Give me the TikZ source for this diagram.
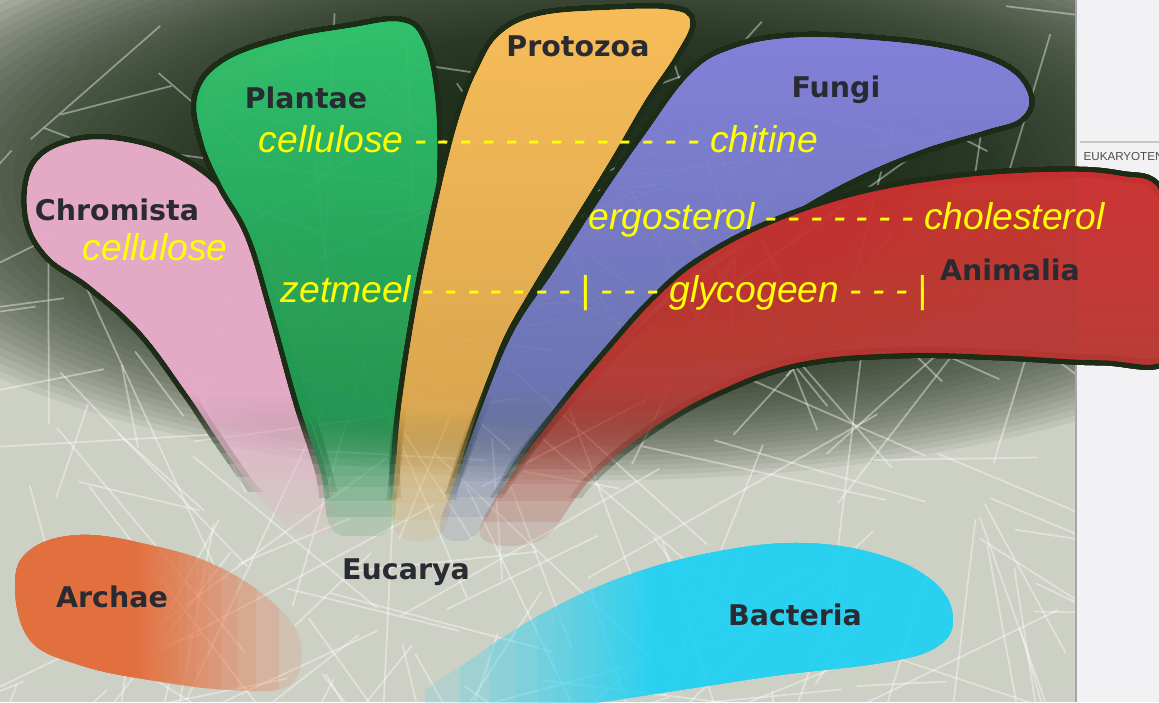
\documentclass[tikz,border=0pt]{standalone}
\usepackage{fontspec}
\usepackage{xcolor}
\usepackage{tikz}
\newfontfamily\rijkfont{DejaVu Sans}
\newfontfamily\stoffont{Liberation Sans}
\definecolor{achtergrond}{HTML}{CDD0C5}
\definecolor{gloed}{HTML}{1C2C17}
\definecolor{paneel}{HTML}{F2F2F4}
\definecolor{roze}{HTML}{E9AFCB}
\definecolor{groen}{HTML}{36C672}
\definecolor{groendonker}{HTML}{1F8C4B}
\definecolor{oranje}{HTML}{FDC25E}
\definecolor{oranjedonker}{HTML}{D6A550}
\definecolor{paars}{HTML}{8886DF}
\definecolor{paarsdonker}{HTML}{6676A6}
\definecolor{rood}{HTML}{CC3535}
\definecolor{rooddonker}{HTML}{A8443A}
\definecolor{archae}{HTML}{E8703F}
\definecolor{cyaan}{HTML}{2AD3F5}
\definecolor{tekst}{HTML}{2A2A33}
\definecolor{geel}{HTML}{FFFF00}

% een rijk: vlak met donkere rand, dat langs x of y vervaagt
% #1 = x of y, #2 = begin vervagen, #3 = einde vervagen, #4 = opmaak, #5 = punten
\newcommand{\rijkvlak}[5]{%
  \pgfmathsetmacro{\ver}{#2-10*(#3-#2)}
  % rand vervaagt eerder dan het vlak
  \foreach \k in {0,...,27}{
    \pgfmathsetmacro{\vb}{#2+0.7*(#3-#2)*0.85^\k}
    \begin{scope}
      \if#1y\clip (-100,\ver) rectangle (1300,\vb);\else\clip (\ver,-100) rectangle (\vb,800);\fi
      \draw[halo, opacity=.15] plot[smooth cycle, tension=.65] coordinates {#5};
    \end{scope}
  }
  \foreach \k in {0,...,27}{
    \pgfmathsetmacro{\vb}{#2+(#3-#2)*0.85^\k}
    \begin{scope}
      \if#1y\clip (-100,\ver) rectangle (1300,\vb);\else\clip (\ver,-100) rectangle (\vb,800);\fi
      \path[#4, opacity=.15] plot[smooth cycle, tension=.65] coordinates {#5};
    \end{scope}
  }
}

\begin{document}
\begin{tikzpicture}[x=0.01cm, y=-0.01cm,
    rijk/.style={font=\rijkfont\bfseries\fontsize{8.1}{9}\selectfont, text=tekst, inner sep=0pt},
    stof/.style={font=\stoffont\itshape\fontsize{10.6}{12}\selectfont, text=geel, inner sep=0pt, anchor=base west},
    vezel/.style={white, opacity=.4, line width=.5pt},
    halo/.style={draw=gloed, line width=3pt, line join=round}]

  \clip (0,0) rectangle (1159,702);

  % achtergrond met donkere gloed
  \fill[achtergrond] (0,0) rectangle (1159,702);
  \foreach \s in {0,...,39}{
    \pgfmathsetmacro{\f}{1-0.65*\s/39}
    \fill[gloed, opacity=.065] (600,180) ellipse [x radius=8cm*\f, y radius=3cm*\f];
  }

  % vezels
  \begin{scope}
    \clip (0,0) rectangle (1075,702);
    \pgfmathsetseed{12}
    \foreach \i in {1,...,170}{
      \pgfmathsetmacro{\xa}{rnd*1075}
      \pgfmathsetmacro{\ya}{rnd*702}
      \pgfmathsetmacro{\hoek}{rnd*180}
      \pgfmathsetmacro{\lengte}{80+rnd*260}
      \draw[vezel] (\xa,\ya) -- ++(\hoek:\lengte);
    }
  \end{scope}

  % bladzijde rechts
  \fill[paneel] (1077,0) rectangle (1159,702);
  \draw[gray!70, line width=.6pt] (1076,0) -- (1076,702);
  \draw[gray!45, line width=.4pt] (1080,142) -- (1159,142);
  \node[font=\stoffont\fontsize{3.3}{4}\selectfont, text=black!70, anchor=west, inner sep=0pt] (eukaryoten) at (1083,156) {EUKARYOTEN};

  % Chromista
  \rijkvlak{y}{390}{535}{fill=roze}{(35,165) (75,142) (130,143) (185,163) (228,200) (252,250) (272,310) (298,385) (322,455) (335,525) (300,532) (262,500) (225,450) (185,390) (140,330) (90,285) (48,255) (28,215)}
  % Plantae
  \rijkvlak{y}{410}{535}{top color=groen, bottom color=groendonker}{(198,95) (225,62) (285,40) (350,28) (400,22) (422,40) (434,90) (437,160) (432,230) (420,300) (405,380) (395,450) (390,528) (335,532) (320,470) (298,400) (273,310) (250,235) (222,185) (203,140)}
  % Protozoa
  \rijkvlak{y}{405}{540}{top color=oranje, bottom color=oranjedonker}{(478,70) (500,35) (540,16) (610,10) (670,10) (690,22) (675,55) (645,100) (610,160) (570,225) (530,290) (500,345) (478,410) (455,480) (440,535) (395,530) (397,450) (405,380) (418,300) (432,230) (448,160) (462,110)}
  % Fungi
  \rijkvlak{y}{385}{540}{top color=paars, bottom color=paarsdonker}{(690,75) (730,50) (790,38) (870,40) (950,50) (1005,68) (1028,95) (1020,118) (985,130) (920,150) (850,180) (780,220) (720,262) (670,300) (615,350) (560,410) (515,465) (475,535) (440,530) (460,470) (485,400) (515,330) (555,270) (600,200) (645,135)}
  % Animalia
  \rijkvlak{y}{385}{545}{top color=rood, bottom color=rooddonker}{(700,262) (770,225) (860,195) (960,178) (1060,172) (1120,176) (1159,190) (1175,260) (1170,355) (1100,360) (1000,355) (900,353) (800,362) (720,390) (650,430) (590,480) (540,540) (480,535) (515,470) (560,410) (610,350) (655,300)}

  % Archae en Bacteria zonder donkere rand
  \begin{scope}[halo/.style={draw=none}]
    \rijkvlak{x}{130}{305}{fill=archae}{(15,585) (30,550) (80,535) (150,545) (215,565) (270,600) (300,640) (290,685) (230,690) (150,680) (80,665) (30,640)}
    \rijkvlak{x}{660}{425}{fill=cyaan}{(420,700) (470,660) (540,615) (620,578) (710,553) (800,543) (880,555) (935,583) (953,620) (935,648) (880,663) (780,675) (680,690) (580,705) (480,715)}
  \end{scope}

  % namen van de rijken
  \node[rijk] (chromista) at (117,210) {Chromista};
  \node[rijk] (plantae) at (306,98) {Plantae};
  \node[rijk] (protozoa) at (578,46) {Protozoa};
  \node[rijk] (fungi) at (836,90) {Fungi};
  \node[rijk] (animalia) at (1010,270) {Animalia};
  \node[rijk] (archae) at (112,597) {Archae};
  \node[rijk] (eucarya) at (406,572) {Eucarya};
  \node[rijk] (bacteria) at (795,615) {Bacteria};

  % stoffen
  \node[stof] (celwand) at (258,152) {cellulose - - - - - - - - - - - - - chitine};
  \node[stof] (sterol) at (588,229) {ergosterol - - - - - - - cholesterol};
  \node[stof] (chromista-cel) at (82,260) {cellulose};
  \node[stof] (reserve) at (280,302) {zetmeel - - - - - - - | - - - glycogeen - - - |};
\end{tikzpicture}
\end{document}
